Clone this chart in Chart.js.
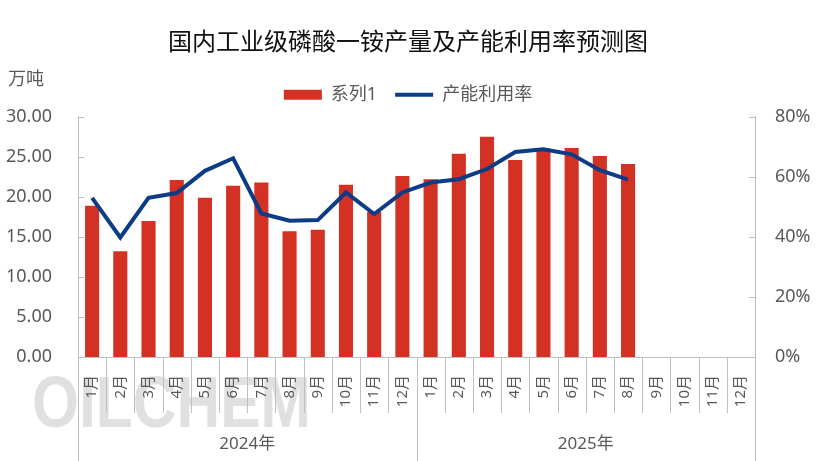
<!DOCTYPE html>
<html>
<head>
<meta charset="utf-8">
<script src="https://cdn.jsdelivr.net/npm/chart.js@4.4.1/dist/chart.umd.min.js"></script>
<style>
  html, body { margin: 0; padding: 0; background: #fff; }
  #wrap { width: 816px; height: 461px; }
</style>
</head>
<body>
<div id="wrap"><canvas id="chart" width="816" height="461"></canvas></div>
<script>
// data
const years = ['2024年', '2025年'];
const months = ['1月', '2月', '3月', '4月', '5月', '6月', '7月', '8月', '9月', '10月', '11月', '12月'];
const output = [18.9, 13.2, 17.0, 22.1, 19.9, 21.4, 21.8, 15.7, 15.9, 21.5, 18.1, 22.6,
                22.2, 25.4, 27.5, 24.6, 26.0, 26.1, 25.1, 24.1, null, null, null, null];
const utilization = [53.0, 39.8, 53.0, 54.6, 62.0, 66.2, 47.8, 45.4, 45.6, 54.8, 47.6, 54.8,
                     58.1, 59.2, 62.6, 68.3, 69.2, 67.5, 62.2, 59.1, null, null, null, null];

const labels = [];
years.forEach(y => months.forEach(m => labels.push(m)));

const gray = '#595959';
const axisGray = '#bfbfbf';
const fontFamily = '"Noto Sans", "Noto Sans CJK SC", sans-serif';

// month labels, separators, year labels, unit text, watermark
const axisExtras = {
    id: 'axisExtras',
    beforeDraw(chart) {
        const ctx = chart.ctx;
        const area = chart.chartArea;
        ctx.save();
        ctx.font = 'bold 72px "Liberation Sans", sans-serif';
        const g = ctx.createLinearGradient(0, area.bottom + 18, 0, area.bottom + 72);
        g.addColorStop(0, '#e0e0e0');
        g.addColorStop(0.5, '#ececec');
        g.addColorStop(1, '#ffffff');
        ctx.fillStyle = g;
        ctx.translate(32, area.bottom + 70);
        ctx.scale(0.84, 1);
        ctx.textAlign = 'left';
        ctx.textBaseline = 'alphabetic';
        ctx.fillText('OILCHEM', 0, 0);
        ctx.restore();
    },
    afterDraw(chart) {
        const ctx = chart.ctx;
        const x = chart.scales.x;
        const yl = chart.scales.y;
        const yr = chart.scales.y1;
        const area = chart.chartArea;
        const step = x.getPixelForValue(1) - x.getPixelForValue(0);
        const bottom = chart.height;

        ctx.save();
        ctx.strokeStyle = axisGray;
        ctx.lineWidth = 1;

        // inward tick marks on both value axes
        yl.ticks.forEach(t => {
            const py = Math.round(yl.getPixelForValue(t.value)) + 0.5;
            ctx.beginPath();
            ctx.moveTo(area.left, py);
            ctx.lineTo(area.left + 6, py);
            ctx.stroke();
        });
        yr.ticks.forEach(t => {
            const py = Math.round(yr.getPixelForValue(t.value)) + 0.5;
            ctx.beginPath();
            ctx.moveTo(area.right, py);
            ctx.lineTo(area.right - 6, py);
            ctx.stroke();
        });

        // category separators
        for (let i = 0; i <= labels.length; i++) {
            const px = Math.round(x.getPixelForValue(i) - step / 2) + 0.5;
            const isYear = i % months.length === 0;
            ctx.beginPath();
            ctx.moveTo(px, area.bottom);
            ctx.lineTo(px, isYear ? bottom : area.bottom + 56);
            ctx.stroke();
        }

        // month labels, rotated
        ctx.fillStyle = gray;
        ctx.font = '15px ' + fontFamily;
        labels.forEach((lab, i) => {
            const px = x.getPixelForValue(i);
            ctx.save();
            ctx.translate(px, area.bottom + 18);
            ctx.rotate(-Math.PI / 2);
            ctx.textAlign = 'right';
            ctx.textBaseline = 'middle';
            ctx.fillText(lab, 0, 0);
            ctx.restore();
        });

        // year labels
        ctx.font = '17px ' + fontFamily;
        ctx.textAlign = 'center';
        ctx.textBaseline = 'middle';
        years.forEach((yr, k) => {
            const a = x.getPixelForValue(k * months.length);
            const b = x.getPixelForValue(k * months.length + months.length - 1);
            ctx.fillText(yr, (a + b) / 2, area.bottom + 87);
        });

        // unit
        ctx.textAlign = 'left';
        ctx.font = '18px ' + fontFamily;
        ctx.fillText('万吨', 8, 80);
        ctx.restore();
    }
};

new Chart(document.getElementById('chart').getContext('2d'), {
    data: {
        labels: labels,
        datasets: [
            {
                type: 'line',
                label: '产能利用率',
                data: utilization,
                yAxisID: 'y1',
                borderColor: '#0b3c85',
                backgroundColor: '#0b3c85',
                borderWidth: 4,
                pointRadius: 0,
                tension: 0,
                order: 0
            },
            {
                type: 'bar',
                label: '系列1',
                data: output,
                yAxisID: 'y',
                backgroundColor: '#d33123',
                borderWidth: 0,
                barPercentage: 0.5,
                categoryPercentage: 1,
                order: 1
            }
        ]
    },
    options: {
        responsive: false,
        animation: false,
        layout: { padding: { top: 0, left: 0, right: 0, bottom: 0 } },
        plugins: {
            title: {
                display: true,
                text: '国内工业级磷酸一铵产量及产能利用率预测图',
                color: '#111',
                font: { family: '"Noto Sans CJK SC", sans-serif', size: 24, weight: 'normal' },
                padding: { top: 26, bottom: 13 }
            },
            legend: {
                display: true,
                position: 'top',
                reverse: true,
                labels: {
                    color: gray,
                    font: { family: fontFamily, size: 18 },
                    usePointStyle: true,
                    pointStyleWidth: 38,
                    boxHeight: 10,
                    padding: 18,
                    generateLabels(chart) {
                        const items = Chart.defaults.plugins.legend.labels.generateLabels(chart);
                        items.forEach(it => {
                            const ds = chart.data.datasets[it.datasetIndex];
                            it.pointStyle = ds.type === 'line' ? 'line' : 'rect';
                            it.fillStyle = ds.type === 'line' ? ds.borderColor : ds.backgroundColor;
                            it.strokeStyle = ds.type === 'line' ? ds.borderColor : ds.backgroundColor;
                            it.lineWidth = ds.type === 'line' ? 4 : 0;
                        });
                        return items;
                    }
                }
            },
            tooltip: { enabled: false }
        },
        scales: {
            x: {
                type: 'category',
                offset: true,
                grid: { display: false, drawTicks: false },
                border: { display: true, color: axisGray },
                ticks: { display: false },
                afterFit(scale) { scale.height = 104; }
            },
            // empty top axis, only used as a gap under the legend
            xTop: {
                type: 'category',
                position: 'top',
                grid: { display: false, drawTicks: false },
                border: { display: false },
                ticks: { display: false },
                afterFit(scale) { scale.height = 3; }
            },
            y: {
                position: 'left',
                min: 0,
                max: 30,
                grid: { display: false, drawTicks: false },
                border: { display: true, color: axisGray },
                ticks: {
                    stepSize: 5,
                    color: gray,
                    padding: 26,
                    font: { family: fontFamily, size: 18 },
                    callback: v => Number(v).toFixed(2)
                },
                afterFit(scale) { scale.width = 78; }
            },
            y1: {
                position: 'right',
                min: 0,
                max: 80,
                grid: { display: false, drawTicks: false },
                border: { display: true, color: axisGray },
                ticks: {
                    stepSize: 20,
                    color: gray,
                    padding: 20,
                    font: { family: fontFamily, size: 18 },
                    callback: v => v + '%'
                },
                afterFit(scale) { scale.width = 61; }
            }
        }
    },
    plugins: [axisExtras]
});
</script>
</body>
</html>
